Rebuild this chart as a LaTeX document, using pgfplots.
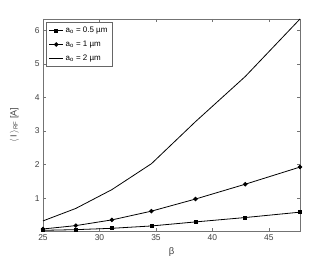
\documentclass[border=0pt]{standalone}
\usepackage{fontspec}
\setmainfont{Liberation Sans}
\usepackage{pgfplots}
\pgfplotsset{compat=1.18}
\begin{document}
\begin{tikzpicture}
\begin{axis}[
  scale only axis, width=257bp, height=212bp,
  xmin=25, xmax=47.75, ymin=0.03, ymax=6.33,
  xtick={25,30,35,40,45}, ytick={1,2,3,4,5,6},
  tick align=inside, major tick length=3bp,
  axis line style={black!55, line width=0.6pt},
  tick style={black!55, line width=0.5pt},
  every tick label/.append style={font=\fontsize{8.5}{9}\selectfont, text=black!75},
  /pgf/number format/assume math mode=true,
  xlabel={β}, ylabel={$\langle$\,I\,$\rangle_{\mathrm{RF}}$ [A]},
  xlabel style={font=\fontsize{9.5}{10}\selectfont, text=black!75, at={(axis description cs:0.5,-0.06)}, anchor=north},
  ylabel style={font=\fontsize{9}{10}\selectfont, text=black!75, at={(axis description cs:-0.08,0.5)}, anchor=south},
  legend style={at={(axis description cs:0.012,0.985)}, anchor=north west, draw=black!60, line width=0.5pt,
    font=\fontsize{8}{9}\selectfont, row sep=3pt, inner sep=2.5pt},
  legend cell align=left,
  legend image code/.code={\draw[#1] (0bp,0bp) -- (14bp,0bp); \draw[#1,mark repeat=1] plot coordinates {(7bp,0bp)};},
]
\addplot[black, line width=0.8pt, mark=square*, mark size=1.5bp] coordinates {
(25,0.05) (27.9,0.07) (31.1,0.11) (34.6,0.18) (38.5,0.30) (42.9,0.43) (47.75,0.59)};
\addlegendentry{a$_{\mathrm o}$ = 0.5 µm}
\addplot[black, line width=0.8pt, mark=*, mark size=1.8bp] coordinates {
(25,0.09) (27.9,0.19) (31.1,0.36) (34.6,0.62) (38.5,0.98) (42.9,1.42) (47.75,1.93)};
\addlegendentry{a$_{\mathrm o}$ = 1 µm}
\addplot[black, line width=0.8pt] coordinates {
(25,0.33) (27.9,0.70) (31.1,1.26) (34.6,2.03) (38.5,3.28) (42.9,4.62) (47.75,6.33)};
\addlegendentry{a$_{\mathrm o}$ = 2 µm}
\end{axis}
\path[use as bounding box] (-43bp,-30bp) rectangle (289bp,231bp);
\end{tikzpicture}
\end{document}
